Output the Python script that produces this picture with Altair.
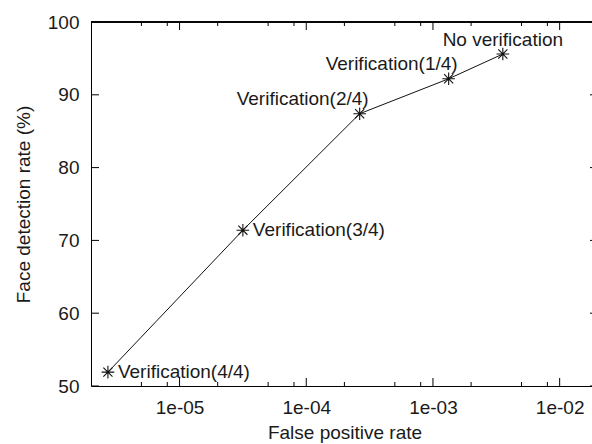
import altair as alt
import pandas as pd

# ---- data ----
labels = ["Verification(4/4)", "Verification(3/4)", "Verification(2/4)",
          "Verification(1/4)", "No verification"]
false_positive_rate = [2.72e-6, 3.16e-5, 2.64e-4, 1.33e-3, 3.56e-3]
detection_rate = [51.9, 71.4, 87.4, 92.2, 95.6]

x_major_ticks = [1e-5, 1e-4, 1e-3, 1e-2]
x_minor_ticks = [5e-6, 8e-6, 2e-5, 5e-5, 8e-5, 2e-4, 5e-4, 8e-4,
                 2e-3, 5e-3, 8e-3]
y_ticks = [50, 60, 70, 80, 90, 100]

left_labels = ["Verification(4/4)", "Verification(3/4)"]
right_labels = ["Verification(2/4)", "Verification(1/4)"]
top_labels = ["No verification"]

# ---- styling ----
X_DOMAIN = [2e-6, 0.018]
Y_DOMAIN = [50, 100]
W, H = 501, 364
FONT = "Liberation Sans"
FS = 19
INK = "#1a1a1a"
LINE = "#111111"
STAR = "M-1,0L1,0M0,-1L0,1M-0.72,-0.72L0.72,0.72M-0.72,0.72L0.72,-0.72"

df = pd.DataFrame({"label": labels, "fpr": false_positive_rate,
                   "rate": detection_rate})

xscale = alt.Scale(type="log", domain=X_DOMAIN, nice=False)
yscale = alt.Scale(domain=Y_DOMAIN, nice=False, zero=False)

x_axis = alt.Axis(
    values=x_major_ticks,
    labelExpr="'1e-0' + round(-log(datum.value)/LN10)",
    title="False positive rate", grid=False, ticks=False, tickSize=0,
    domain=True, domainColor="#000", domainWidth=1,
    labelFont=FONT, labelFontSize=FS, labelColor=INK, labelPadding=12,
    titleFont=FONT, titleFontSize=FS, titleFontWeight="normal",
    titleColor=INK, titleBaseline="alphabetic", titleX=253.5, titleY=52,
)
y_axis = alt.Axis(
    values=y_ticks, format="d",
    title="Face detection rate (%)", grid=False, ticks=False, tickSize=0,
    domain=True, domainColor="#000", domainWidth=1,
    labelFont=FONT, labelFontSize=FS, labelColor=INK, labelPadding=12,
    titleFont=FONT, titleFontSize=FS, titleFontWeight="normal",
    titleColor=INK, titleBaseline="alphabetic", titleX=-62, titleY=182,
    titleAngle=270,
)

X = alt.X("fpr:Q", scale=xscale, axis=x_axis)
Y = alt.Y("rate:Q", scale=yscale, axis=y_axis)

base = alt.Chart(df)

line = base.mark_line(color=LINE, strokeWidth=1).encode(x=X, y=Y)
points = base.mark_point(shape=STAR, size=160, filled=False, stroke=LINE,
                         strokeWidth=1.1, opacity=1).encode(x=X, y=Y)

txt = dict(font=FONT, fontSize=FS, color=INK)
lab_left = base.transform_filter(
    alt.FieldOneOfPredicate(field="label", oneOf=left_labels)
).mark_text(align="left", baseline="middle", dx=10, **txt).encode(
    x=X, y=Y, text="label:N")
lab_right = base.transform_filter(
    alt.FieldOneOfPredicate(field="label", oneOf=right_labels)
).mark_text(align="right", baseline="alphabetic", dx=9, dy=-9, **txt).encode(
    x=X, y=Y, text="label:N")
lab_top = base.transform_filter(
    alt.FieldOneOfPredicate(field="label", oneOf=top_labels)
).mark_text(align="center", baseline="alphabetic", dy=-8.5, **txt).encode(
    x=X, y=Y, text="label:N")

# ---- inward ticks (gnuplot style, mirrored) ----
xmaj = alt.Chart(pd.DataFrame({"fpr": x_major_ticks}))
xmin = alt.Chart(pd.DataFrame({"fpr": x_minor_ticks}))
ytk = alt.Chart(pd.DataFrame({"rate": y_ticks}))
rule = dict(color="#000", strokeWidth=1)

ticks = [
    xmaj.mark_rule(**rule).encode(x=X, y=alt.value(H), y2=alt.value(H - 8)),
    xmaj.mark_rule(**rule).encode(x=X, y=alt.value(0), y2=alt.value(8)),
    xmin.mark_rule(**rule).encode(x=X, y=alt.value(H), y2=alt.value(H - 4)),
    xmin.mark_rule(**rule).encode(x=X, y=alt.value(0), y2=alt.value(4)),
    ytk.mark_rule(**rule).encode(y=Y, x=alt.value(0), x2=alt.value(8)),
    ytk.mark_rule(**rule).encode(y=Y, x=alt.value(507), x2=alt.value(499)),
]
top_border = alt.Chart(df).mark_rule(**rule).encode(
    x=alt.value(0), x2=alt.value(W), y=alt.value(0))

chart = alt.layer(
    line, *ticks, top_border, points, lab_left, lab_right, lab_top
).properties(
    width=W, height=H,
    padding={"left": 91, "top": 22, "right": 0, "bottom": 58},
    autosize=alt.AutoSizeParams(type="none"),
    background="white",
).configure_view(stroke="transparent")

chart.save("out.html", embed_options={"renderer": "svg", "actions": False})
